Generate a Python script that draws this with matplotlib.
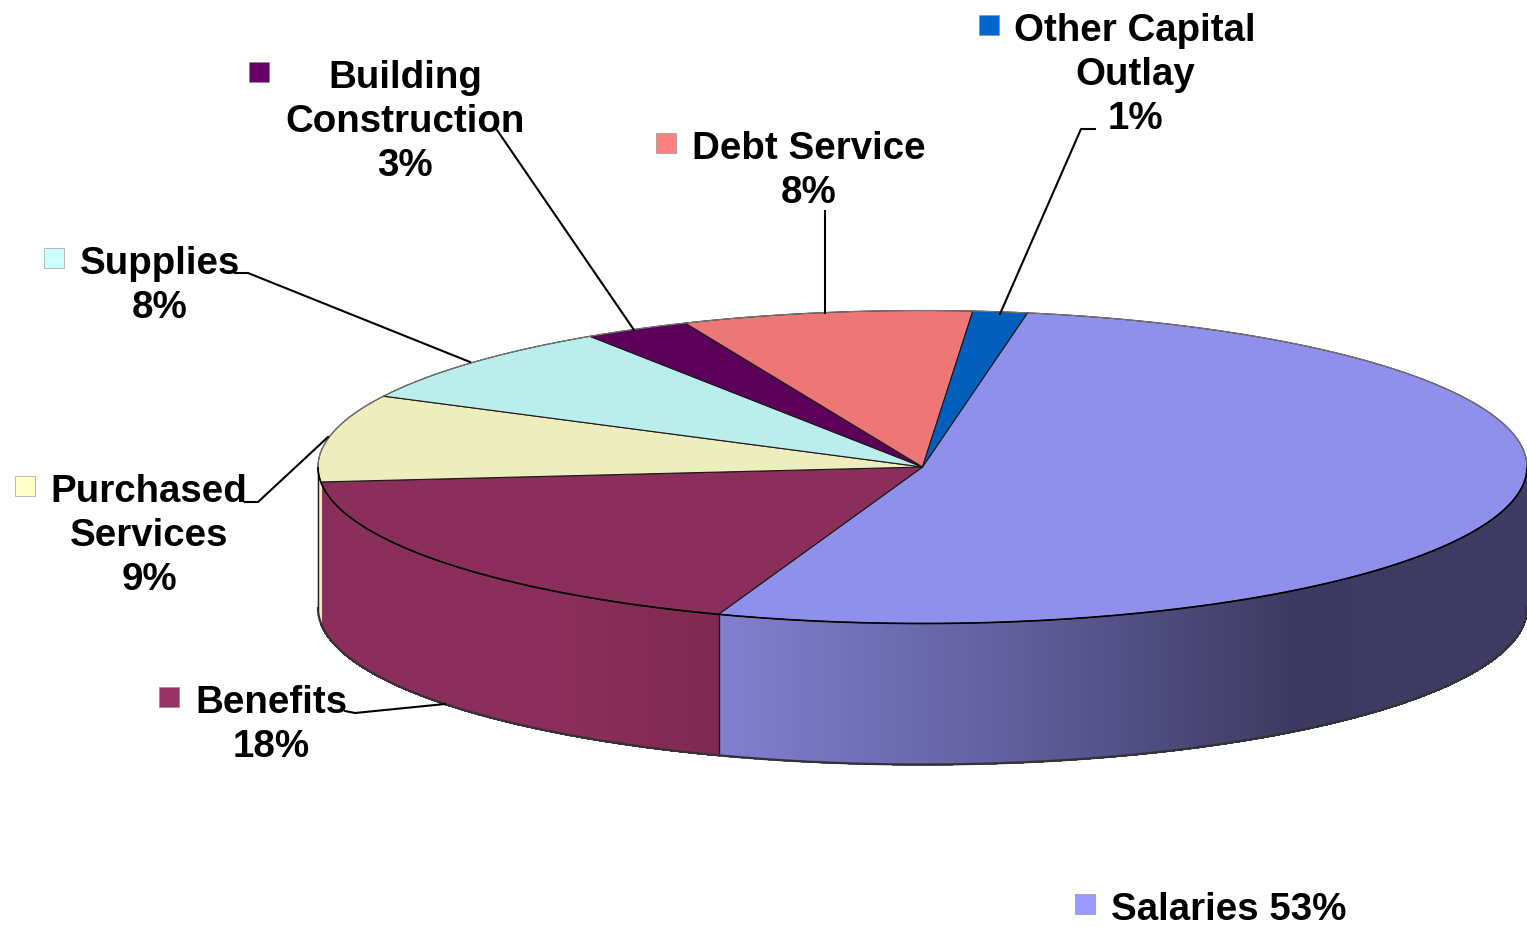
import numpy as np
import matplotlib
matplotlib.use("Agg")
import matplotlib.pyplot as plt
from matplotlib.colors import to_rgb

# shares, printed labels kept separately
categories = ["Salaries", "Benefits", "Purchased\nServices", "Supplies",
              "Building\nConstruction", "Debt Service", "Other Capital\nOutlay"]
values = [52.7, 18.0, 9.0, 8.25, 2.85, 7.75, 1.45]
printed = ["53%", "18%", "9%", "8%", "3%", "8%", "1%"]
colors = ["#8f8fec", "#8c2e5b", "#eeedbd", "#bbeded", "#5c0059", "#ed7677", "#025fbb"]
key_colors = ["#9999ff", "#993366", "#ffffcc", "#ccffff", "#660066", "#ff8080", "#0066cc"]

# pie geometry in pixels
cx, cy, rx, ry = 922.5, 468, 604.5, 156.5
depth = 141
start = 80.0


def ell(t, dy=0):
    t = np.radians(t)
    return cx + rx * np.cos(t), cy - ry * np.sin(t) + dy


def side_color(x, base):
    # light falls off to the right along the wall
    if base == colors[0]:
        xs = [721, 1000, 1290, 1527]
        cs = [to_rgb("#8080cf"), to_rgb("#62609f"), to_rgb("#3d3a62"), to_rgb("#3e3b64")]
        return [np.interp(x, xs, [c[i] for c in cs]) for i in range(3)]
    if base == colors[1]:
        return [np.interp(x, [319, 560, 721], [to_rgb("#8c2e5b")[i], to_rgb("#8c2e5b")[i], to_rgb("#7e2950")[i]]) for i in range(3)]
    return to_rgb(base)


fig = plt.figure(figsize=(15.27, 9.28), dpi=100)
ax = fig.add_axes([0, 0, 1, 1])
ax.set_xlim(0, 1527)
ax.set_ylim(928, 0)
ax.axis("off")

# angles of each slice, going clockwise from start
edges = start - np.cumsum([0] + values) * 3.6

# side wall first, only the front half is visible
for i in range(len(values)):
    a0 = min(edges[i], 0)
    b0 = max(edges[i + 1], -180)
    if a0 <= b0:
        continue
    ts = np.linspace(a0, b0, 240)
    for t1, t2 in zip(ts[:-1], ts[1:]):
        x1, y1 = ell(t1)
        x2, y2 = ell(t2)
        ax.fill([x1, x2, x2, x1], [y1, y2, y2 + depth, y1 + depth],
                color=side_color((x1 + x2) / 2, colors[i]), lw=1.0,
                antialiased=False, zorder=1)

# seam between salaries and benefits
x, y = ell(edges[1])
ax.plot([x, x], [y, y + depth], color="#2a1020", lw=1, zorder=2)

# wall outlines
ts = np.linspace(-180, 0, 400)
x, y = ell(ts, depth)
ax.plot(x, y, color="#333333", lw=1.6, zorder=2)
ax.plot([cx - rx, cx - rx], [cy, cy + depth], color="#222222", lw=1.0, zorder=2)

# top face
for i in range(len(values)):
    ts = np.linspace(edges[i], edges[i + 1], 200)
    x, y = ell(ts)
    ax.fill(np.r_[cx, x, cx], np.r_[cy, y, cy], facecolor=colors[i],
            edgecolor="#1a1a1a", lw=0.8, zorder=3)

ts = np.linspace(0, 360, 600)
x, y = ell(ts)
ax.plot(x[300:], y[300:], color="black", lw=1.2, zorder=4)
ax.plot(x[:300], y[:300], color="#777777", lw=0.8, zorder=4)

# labels and their key squares
label_x = [1229, 271, 149, 160, 405, 809, 1135]
label_y = [910, 725, 536, 286, 122, 171, 75]
key_x = [1085, 169, 25, 54, 259, 666, 989]
key_y = [905, 698, 487, 259, 73, 144, 26]
for i in range(len(values)):
    sep = " " if i == 0 else "\n"
    ax.text(label_x[i], label_y[i], categories[i] + sep + printed[i],
            ha="center", va="center", multialignment="center",
            family="Liberation Sans", weight="bold", fontsize=27.7,
            linespacing=1.28, color="black", zorder=6)
    ax.add_patch(plt.Rectangle((key_x[i] - 10, key_y[i] - 10), 20, 20,
                               facecolor=key_colors[i], edgecolor="#888888", lw=0.4, zorder=6))

# leader lines
leaders = [
    ([345, 355, 445], [712, 714, 705]),
    ([245, 258, 328], [503, 503, 438]),
    ([235, 248, 470], [274, 274, 363]),
    ([497, 634], [131, 331]),
    ([825, 825], [212, 314]),
    ([1095, 1081, 1000], [130, 130, 315]),
]
for lx, ly in leaders:
    ax.plot(lx, ly, color="black", lw=1.5, zorder=5)

fig.savefig("out.png", dpi=100)
